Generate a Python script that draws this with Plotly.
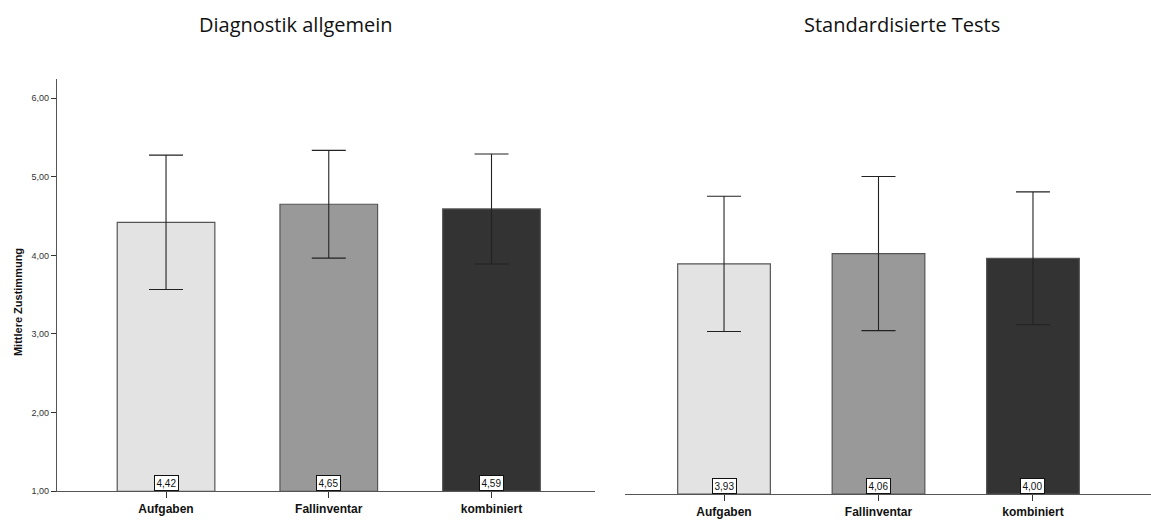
import plotly.graph_objects as go

categories = ["Aufgaben", "Fallinventar", "kombiniert"]
left_title = "Diagnostik allgemein"
right_title = "Standardisierte Tests"
left_means = [4.42, 4.65, 4.59]
left_err = [0.855, 0.685, 0.70]
right_means = [3.93, 4.06, 4.00]
right_err = [0.86, 0.98, 0.845]
bar_colors = ["#e3e3e3", "#999999", "#333333"]
y_ticks = [1, 2, 3, 4, 5, 6]
y_ticktext = ["1,00", "2,00", "3,00", "4,00", "5,00", "6,00"]
y_title = "Mittlere Zustimmung"

W, H = 1151, 522

def px(xp):
    return xp / W

def py(yp):
    return 1 - yp / H

def fmt(v):
    return f"{v:.2f}".replace(".", ",")

fig = go.Figure()

for means, errs, xa, ya in [(left_means, left_err, "x", "y"), (right_means, right_err, "x2", "y2")]:
    fig.add_trace(go.Bar(
        x=categories, y=[m - 1 for m in means], base=1,
        marker=dict(color=bar_colors, line=dict(color="#555555", width=1.2)),
        width=0.6,
        error_y=dict(type="data", array=errs, visible=True, color="#222222", thickness=1.1, width=17),
        xaxis=xa, yaxis=ya, showlegend=False, hoverinfo="skip",
    ))
    for c, m in zip(categories, means):
        fig.add_annotation(
            x=c, y=1, xref=xa, yref=ya, yanchor="bottom", text=fmt(m),
            showarrow=False, font=dict(family="Arial", size=10, color="#111111"),
            bgcolor="white", bordercolor="#111111", borderwidth=1, borderpad=1.5,
        )

axis_common = dict(
    showline=True, linecolor="#555555", linewidth=1.2,
    ticks="outside", ticklen=6, tickcolor="#333333", tickwidth=1,
    tickfont=dict(family="Arial", size=12, color="#111111", weight="bold"),
    showgrid=False, zeroline=False, fixedrange=True,
)

fig.update_layout(
    width=W, height=H,
    margin=dict(l=0, r=0, t=0, b=0),
    paper_bgcolor="white", plot_bgcolor="white",
    bargap=0.4,
    xaxis=dict(domain=[px(57), px(595)], range=[-0.670, 2.636], anchor="y", **axis_common),
    xaxis2=dict(domain=[px(625), 1.0], range=[-0.641, 2.764], anchor="y2", **axis_common),
    yaxis=dict(
        domain=[py(496), py(80)], range=[1, 6.24], anchor="x",
        showline=True, linecolor="#555555", linewidth=1.2,
        ticks="outside", ticklen=5, tickcolor="#333333",
        tickvals=y_ticks, ticktext=y_ticktext,
        tickfont=dict(family="Arial", size=9, color="#333333"),
        showgrid=False, zeroline=False, fixedrange=True,
    ),
    yaxis2=dict(
        domain=[py(499), py(83)], range=[1, 6.24], anchor="x2",
        visible=False, fixedrange=True,
    ),
)

fig.add_annotation(
    x=px(296), y=py(25), xref="paper", yref="paper", text=left_title,
    showarrow=False, xanchor="center", yanchor="middle",
    font=dict(family="Open Sans", size=20, color="#111111"),
)
fig.add_annotation(
    x=px(902), y=py(25), xref="paper", yref="paper", text=right_title,
    showarrow=False, xanchor="center", yanchor="middle",
    font=dict(family="Open Sans", size=20, color="#111111"),
)
fig.add_annotation(
    x=px(18), y=py(305), xref="paper", yref="paper", text=y_title,
    showarrow=False, xanchor="center", yanchor="middle", textangle=-90,
    font=dict(family="Arial", size=11, color="#111111", weight="bold"),
)

fig.write_html(
    "out.html",
    config={"displayModeBar": False},
    post_script="document.body.style.margin='0';document.body.style.overflow='hidden';",
)
